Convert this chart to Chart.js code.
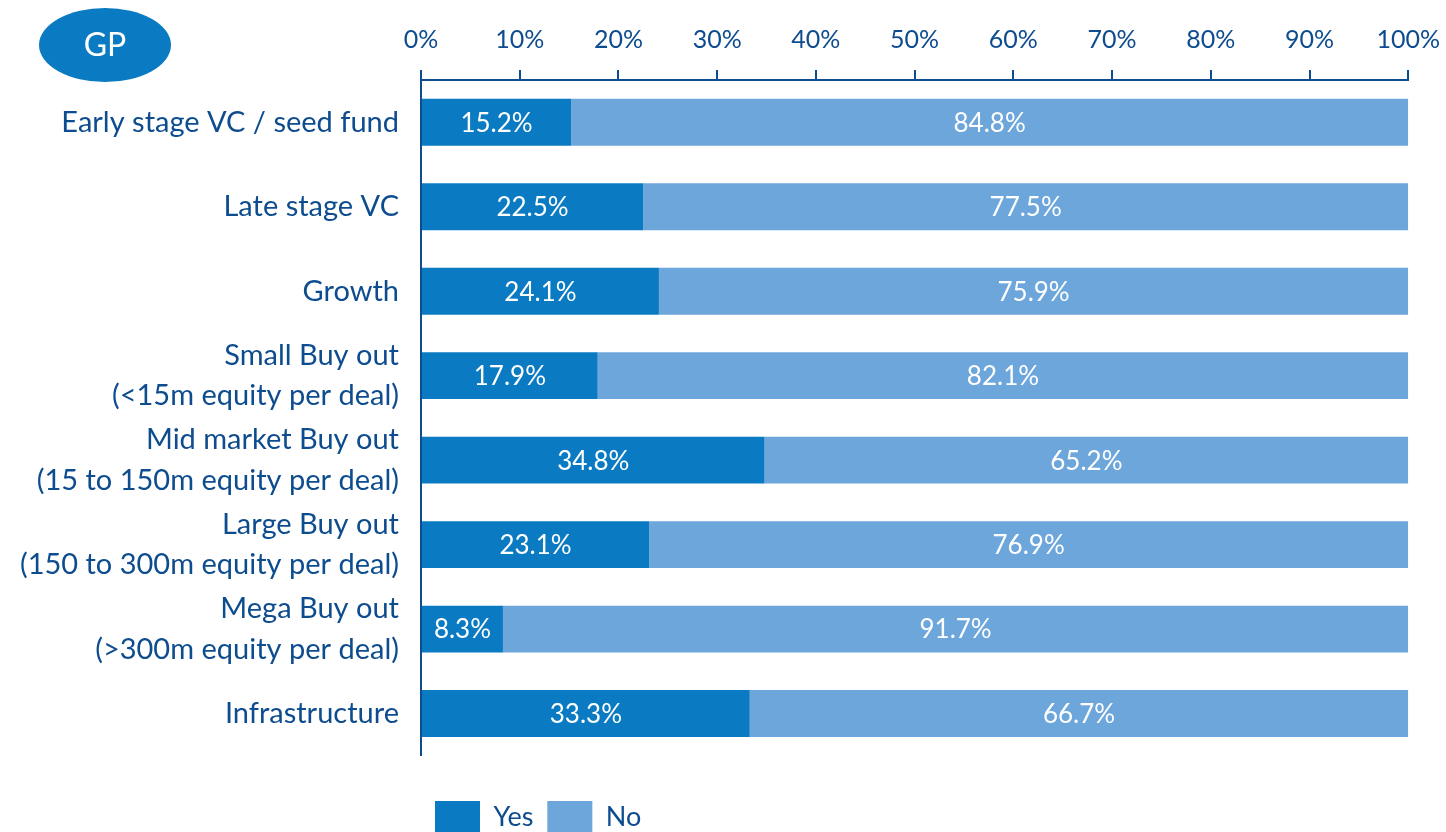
<!DOCTYPE html>
<html>
<head>
<meta charset="utf-8">
<script src="https://cdn.jsdelivr.net/npm/chart.js@4"></script>
<style>
  html, body { margin: 0; padding: 0; background: #fff; overflow: hidden; }
  .grafico { width: 1455px; height: 843px; position: relative; }
</style>
</head>
<body>
<div class="grafico"><canvas id="grafico"></canvas></div>
<script>
const categorias = [
  "Early stage VC / seed fund",
  "Late stage VC",
  "Growth",
  ["Small Buy out", "(<15m equity per deal)"],
  ["Mid market Buy out", "(15 to 150m equity per deal)"],
  ["Large Buy out", "(150 to 300m equity per deal)"],
  ["Mega Buy out", "(>300m equity per deal)"],
  "Infrastructure"
];
const valoresSim = [15.2, 22.5, 24.1, 17.9, 34.8, 23.1, 8.3, 33.3];
const valoresNao = [84.8, 77.5, 75.9, 82.1, 65.2, 76.9, 91.7, 66.7];
const marcasEixo = [0, 10, 20, 30, 40, 50, 60, 70, 80, 90, 100];

const azulEscuro = "#0a7bc2";
const azulClaro = "#6ca6db";
const corTexto = "#0d4c8e";
const fonte = "Lato, 'Open Sans', sans-serif";

// rotulos brancos dentro das barras
const rotulosBarras = {
  id: "rotulosBarras",
  afterDatasetsDraw(chart) {
    const ctx = chart.ctx;
    ctx.save();
    ctx.fillStyle = "#fff";
    ctx.font = "26px " + fonte;
    ctx.textAlign = "center";
    ctx.textBaseline = "middle";
    chart.data.datasets.forEach((ds, i) => {
      chart.getDatasetMeta(i).data.forEach((bar, j) => {
        const x = (bar.x + bar.base) / 2;
        ctx.fillText(ds.data[j].toFixed(1) + "%", x, bar.y + 1);
      });
    });
    ctx.restore();
  }
};

// elipse "GP" no canto
const selo = {
  id: "selo",
  afterDraw(chart) {
    const ctx = chart.ctx;
    ctx.save();
    ctx.fillStyle = azulEscuro;
    ctx.beginPath();
    ctx.ellipse(105, 45, 66, 37, 0, 0, Math.PI * 2);
    ctx.fill();
    ctx.fillStyle = "#fff";
    ctx.font = "32px " + fonte;
    ctx.textAlign = "center";
    ctx.textBaseline = "middle";
    ctx.fillText("GP", 105, 46);
    ctx.restore();
  }
};

new Chart(document.getElementById("grafico"), {
  type: "bar",
  data: {
    labels: categorias,
    datasets: [
      { label: "Yes", data: valoresSim, backgroundColor: azulEscuro },
      { label: "No", data: valoresNao, backgroundColor: azulClaro }
    ]
  },
  options: {
    indexAxis: "y",
    responsive: true,
    maintainAspectRatio: false,
    animation: false,
    barPercentage: 0.555,
    categoryPercentage: 1,
    layout: { padding: { top: 10, left: 8, right: 4, bottom: 0 } },
    scales: {
      x: {
        position: "top",
        stacked: true,
        min: 0,
        max: 100,
        afterBuildTicks: (axis) => { axis.ticks = marcasEixo.map(v => ({ value: v })); },
        ticks: {
          color: corTexto,
          font: { family: fonte, size: 25 },
          padding: 15,
          callback: (v) => v + "%"
        },
        grid: {
          drawOnChartArea: false,
          drawTicks: true,
          tickLength: 10,
          color: corTexto,
          lineWidth: 2
        },
        border: { color: corTexto, width: 2 }
      },
      y: {
        stacked: true,
        afterFit: (scale) => { scale.width = 413; },
        ticks: {
          autoSkip: false,
          color: corTexto,
          font: { family: fonte, size: 29, lineHeight: 1.4 },
          padding: 22
        },
        grid: { display: false, drawTicks: false },
        border: { color: corTexto, width: 2 }
      }
    },
    plugins: {
      legend: {
        position: "bottom",
        align: "start",
        fullSize: false,
        title: { display: true, text: "", font: { size: 1 }, padding: { top: 0, bottom: 30 } },
        labels: {
          color: corTexto,
          font: { family: fonte, size: 27 },
          boxWidth: 45,
          boxHeight: 32,
          padding: 14
        }
      },
      tooltip: { enabled: false }
    }
  },
  plugins: [rotulosBarras, selo]
});
</script>
</body>
</html>
